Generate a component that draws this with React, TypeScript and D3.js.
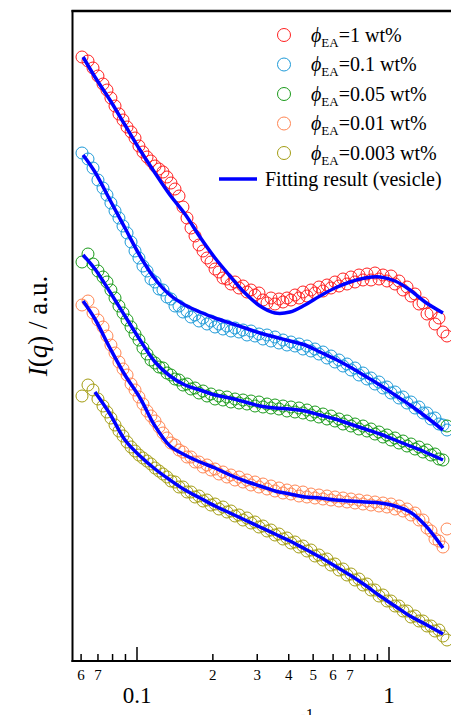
import React from 'react';
import * as d3 from 'd3';

// scattering vector q (nm^-1), shared by all measured curves
const qData = [
  0.0605, 0.0639, 0.0669, 0.0700, 0.0733, 0.0760, 0.0788, 0.0818, 0.0848, 0.0880,
  0.0913, 0.0947, 0.0982, 0.1018, 0.1056, 0.1096, 0.1136, 0.1179, 0.1223, 0.1268,
  0.1315, 0.1364, 0.1415, 0.1468, 0.1522, 0.1579, 0.1638, 0.1699, 0.1762, 0.1828,
  0.1896, 0.1966, 0.2040, 0.2115, 0.2194, 0.2275, 0.2360, 0.2448, 0.2540, 0.2634,
  0.2732, 0.2834, 0.2939, 0.3048, 0.3162, 0.3280, 0.3402, 0.3528, 0.3660, 0.3796,
  0.3937, 0.4083, 0.4236, 0.4394, 0.4557, 0.4726, 0.4902, 0.5084, 0.5273, 0.5470,
  0.5675, 0.5886, 0.6105, 0.6333, 0.6569, 0.6813, 0.7067, 0.7330, 0.7603, 0.7885,
  0.8179, 0.8484, 0.8799, 0.9127, 0.9467, 0.9820, 1.0184, 1.0564, 1.0958, 1.1365,
  1.1788, 1.2228, 1.2683, 1.3153, 1.3644, 1.4152, 1.4678, 1.5221, 1.5788, 1.6376,
  1.6987,
];

// shifted intensities (a.u.)
const phi1 = [
  60.4, 60.0, 59.3, 58.5, 57.7, 57.1, 56.3, 55.5, 54.7, 54.1,
  53.4, 52.9, 52.3, 51.5, 50.9, 50.4, 50.0, 49.5, 49.2, 48.9,
  48.4, 47.8, 47.2, 46.5, 45.4, 44.3, 43.3, 42.5, 41.6, 41.0,
  40.3, 39.9, 39.2, 38.9, 38.3, 38.2, 37.7, 37.9, 37.3, 37.5,
  36.9, 37.1, 36.6, 36.8, 36.1, 35.8, 36.3, 35.7, 36.2, 35.9,
  36.3, 36.1, 36.6, 36.3, 36.9, 36.5, 37.1, 36.8, 37.4, 37.0,
  37.6, 37.3, 37.9, 37.5, 38.2, 37.7, 38.4, 37.9, 38.6, 38.1,
  38.7, 38.1, 38.8, 38.2, 38.6, 38.0, 38.5, 37.7, 38.0, 37.1,
  37.4, 36.5, 36.7, 35.7, 35.8, 34.7, 34.8, 33.7, 34.3, 32.9,
  32.5,
];
const phi01 = [
  50.8, 50.2, 49.3, 48.1, 47.3, 46.6, 45.8, 45.0, 44.3, 43.5,
  42.8, 41.9, 41.0, 40.3, 39.5, 39.0, 38.2, 37.9, 37.2, 37.1,
  36.4, 36.2, 35.5, 35.5, 34.9, 35.0, 34.4, 34.6, 34.0, 34.3,
  33.7, 34.0, 33.4, 33.7, 33.2, 33.5, 33.0, 33.3, 32.9, 33.1,
  32.6, 33.0, 32.5, 32.7, 32.2, 32.6, 32.0, 32.4, 31.8, 32.1,
  31.6, 31.9, 31.5, 31.7, 31.2, 31.5, 31.0, 31.2, 30.7, 30.9,
  30.3, 30.5, 29.9, 30.1, 29.5, 29.7, 29.1, 29.3, 28.6, 28.8,
  28.2, 28.3, 27.7, 27.9, 27.3, 27.4, 26.8, 26.9, 26.3, 26.4,
  25.8, 25.9, 25.3, 25.4, 24.8, 24.8, 24.2, 24.3, 23.7, 23.6,
  23.1,
];
const phi005 = [
  39.9, 40.7, 39.7, 39.0, 38.4, 37.9, 37.1, 36.3, 35.5, 34.8,
  34.1, 33.4, 32.7, 32.1, 31.3, 30.7, 30.1, 29.8, 29.4, 29.3,
  28.8, 28.6, 28.2, 28.1, 27.6, 27.7, 27.2, 27.3, 26.8, 27.0,
  26.5, 26.7, 26.2, 26.5, 26.1, 26.4, 25.9, 26.2, 25.8, 26.1,
  25.7, 26.0, 25.5, 25.9, 25.4, 25.7, 25.3, 25.6, 25.2, 25.5,
  25.0, 25.4, 24.9, 25.3, 24.8, 25.1, 24.6, 24.9, 24.4, 24.7,
  24.2, 24.5, 24.0, 24.2, 23.7, 24.0, 23.5, 23.7, 23.2, 23.5,
  23.0, 23.2, 22.7, 22.9, 22.4, 22.6, 22.1, 22.3, 21.8, 22.0,
  21.5, 21.7, 21.2, 21.4, 20.9, 21.1, 20.6, 20.7, 20.2, 20.1,
  23.5,
];
const phi001 = [
  35.6, 36.0, 34.8, 34.1, 33.4, 32.5, 31.6, 30.8, 29.9, 29.2,
  28.6, 27.7, 27.1, 26.4, 25.7, 25.0, 24.5, 24.0, 23.4, 22.8,
  22.3, 21.8, 21.6, 21.1, 20.9, 20.4, 20.4, 19.9, 19.9, 19.4,
  19.6, 19.1, 19.2, 18.7, 18.9, 18.4, 18.6, 18.1, 18.4, 17.9,
  18.1, 17.6, 17.9, 17.4, 17.7, 17.2, 17.5, 17.0, 17.3, 16.8,
  17.1, 16.7, 17.0, 16.5, 16.9, 16.4, 16.7, 16.3, 16.6, 16.2,
  16.5, 16.1, 16.4, 16.0, 16.3, 15.9, 16.2, 15.8, 16.1, 15.7,
  16.0, 15.6, 15.9, 15.5, 15.8, 15.4, 15.7, 15.2, 15.5, 15.0,
  15.2, 14.6, 14.8, 14.1, 14.1, 13.3, 13.0, 12.2, 12.0, 11.4,
  13.2,
];
const phi0003 = [
  26.5, 27.6, 27.1, 26.2, 25.5, 24.9, 24.3, 23.6, 23.0, 22.5,
  21.9, 21.4, 21.0, 20.6, 20.3, 20.0, 19.7, 19.3, 19.0, 18.7,
  18.4, 18.0, 17.9, 17.4, 17.4, 16.9, 16.9, 16.4, 16.5, 16.0,
  16.1, 15.6, 15.7, 15.2, 15.4, 14.9, 15.0, 14.5, 14.6, 14.1,
  14.3, 13.8, 13.9, 13.4, 13.5, 13.0, 13.1, 12.6, 12.7, 12.2,
  12.3, 11.8, 11.9, 11.4, 11.5, 11.0, 11.1, 10.5, 10.6, 10.1,
  10.2, 9.6, 9.7, 9.1, 9.2, 8.6, 8.7, 8.1, 8.2, 7.6,
  7.7, 7.1, 7.1, 6.5, 6.6, 6.0, 6.0, 5.5, 5.5, 5.0,
  5.0, 4.4, 4.5, 4.0, 4.0, 3.5, 3.5, 3.0, 3.1, 2.5,
  2.1,
];

// vesicle model fits
const qFit = [
  0.0611, 0.0681, 0.0781, 0.0896, 0.1028, 0.1179, 0.1352, 0.1550, 0.1778, 0.2040,
  0.2339, 0.2683, 0.3076, 0.3528, 0.4046, 0.4642, 0.5322, 0.6105, 0.7001, 0.8032,
  0.9213, 1.0564, 1.2115, 1.3895, 1.6376,
];
const fit1 = [60.4, 58.4, 56.1, 53.6, 51.1, 48.8, 46.6, 44.7, 42.4, 40.3, 38.5, 36.8, 35.5, 34.8, 34.9, 35.6, 36.5, 37.3, 37.9, 38.3, 38.4, 38.0, 37.1, 35.9, 34.8];
const fit01 = [50.6, 48.9, 46.1, 43.3, 40.5, 38.2, 36.6, 35.6, 34.9, 34.3, 33.8, 33.3, 32.8, 32.4, 32.0, 31.6, 30.9, 30.2, 29.4, 28.5, 27.6, 26.6, 25.6, 24.5, 23.1];
const fit005 = [40.6, 39.2, 36.9, 34.5, 32.1, 29.9, 28.5, 27.6, 27.1, 26.6, 26.3, 25.9, 25.5, 25.3, 25.2, 25.0, 24.6, 24.2, 23.7, 23.2, 22.7, 22.1, 21.5, 20.9, 20.1];
const fit001 = [36.0, 34.2, 31.3, 28.6, 26.3, 23.5, 21.5, 20.6, 19.9, 19.3, 18.6, 18.0, 17.5, 17.0, 16.7, 16.4, 16.3, 16.1, 16.0, 15.9, 15.8, 15.5, 14.9, 13.6, 11.3];
const fit0003 = [null, 26.9, 24.7, 22.1, 20.5, 19.2, 18.1, 17.1, 16.3, 15.5, 14.8, 14.1, 13.4, 12.7, 12.0, 11.2, 10.4, 9.5, 8.6, 7.6, 6.5, 5.5, 4.5, 3.7, 2.7];

const seriesLabels = ['1', '0.1', '0.05', '0.01', '0.003'];
const seriesColors = ['#ff1f1f', '#1e9ad8', '#1a9a1a', '#ff8552', '#a39c12'];
const seriesData = [phi1, phi01, phi005, phi001, phi0003];
const seriesFits = [fit1, fit01, fit005, fit001, fit0003];

const minorTicks = [0.06, 0.07, 0.08, 0.09, 0.2, 0.3, 0.4, 0.5, 0.6, 0.7, 0.8, 0.9];
const minorLabels = ['6', '7', '', '', '2', '3', '4', '5', '6', '7', '', ''];
const majorTicks = [0.1, 1];
const majorLabels = ['0.1', '1'];

const W = 451;
const H = 715;
const serif = '"Liberation Serif", "Times New Roman", serif';

export default function App() {
  const x = d3.scaleLog().domain([0.1, 1]).range([137, 389]);
  const y = d3.scaleLinear().domain([0, 65.1]).range([661, 10]);
  const left = 72.5;
  const bottom = 661;
  const top = 11;

  const line = d3.line<[number, number | null]>()
    .defined(d => d[1] != null)
    .x(d => x(d[0]))
    .y(d => y(d[1] as number))
    .curve(d3.curveCatmullRom);

  return (
    <svg width={W} height={H} style={{ position: 'absolute', left: 0, top: 0, background: '#fff' }}
      fontFamily={serif}>
      {/* measured curves */}
      {seriesData.map((vals, s) => (
        <g key={s} fill="none" stroke={seriesColors[s]} strokeWidth={1}>
          {vals.map((v, i) => (
            <circle key={i} cx={x(qData[i])} cy={y(v)} r={6} />
          ))}
        </g>
      ))}
      {/* fits */}
      {seriesFits.map((vals, s) => (
        <path key={s} d={line(qFit.map((q, i) => [q, vals[i]]))!} fill="none"
          stroke="#0000ff" strokeWidth={3.5} />
      ))}

      {/* frame */}
      <line x1={left} x2={left} y1={top - 1} y2={bottom + 1} stroke="#000" strokeWidth={2} />
      <line x1={left - 1} x2={W} y1={top} y2={top} stroke="#000" strokeWidth={2.5} />
      <line x1={left - 1} x2={W} y1={bottom} y2={bottom} stroke="#000" strokeWidth={2} />

      {/* x ticks, pointing inward */}
      {minorTicks.map((t, i) => (
        <g key={'m' + i}>
          <line x1={x(t)} x2={x(t)} y1={bottom} y2={bottom - 7} stroke="#000" strokeWidth={1.5} />
          {minorLabels[i] && (
            <text x={x(t)} y={680} fontSize={15} textAnchor="middle">{minorLabels[i]}</text>
          )}
        </g>
      ))}
      {majorTicks.map((t, i) => (
        <g key={'M' + i}>
          <line x1={x(t)} x2={x(t)} y1={bottom} y2={bottom - 14} stroke="#000" strokeWidth={1.5} />
          <text x={x(t)} y={703} fontSize={23} textAnchor="middle">{majorLabels[i]}</text>
        </g>
      ))}

      {/* x title, mostly below the visible area */}
      <text x={239} y={734} fontSize={24}>
        <tspan fontStyle="italic">q</tspan> / nm<tspan fontSize={16} dy={-14}>-1</tspan>
      </text>

      {/* y title */}
      <text transform="translate(47,326) rotate(-90)" fontSize={27} textAnchor="middle">
        <tspan fontStyle="italic">I</tspan>(<tspan fontStyle="italic">q</tspan>) / a.u.
      </text>

      {/* legend */}
      {seriesLabels.map((lab, i) => (
        <g key={'l' + i} transform={`translate(0,${35 + i * 29.5})`}>
          <circle cx={284} cy={0} r={6.5} fill="none" stroke={seriesColors[i]} strokeWidth={1} />
          <text x={311} y={6.5} fontSize={20}>
            <tspan fontStyle="italic">ϕ</tspan>
            <tspan fontSize={13} dy={5}>EA</tspan>
            <tspan dy={-5}>={lab} wt%</tspan>
          </text>
        </g>
      ))}
      <line x1={219} x2={257} y1={179} y2={179} stroke="#0000ff" strokeWidth={3.5} />
      <text x={265} y={185.5} fontSize={20}>Fitting result (vesicle)</text>
    </svg>
  );
}
